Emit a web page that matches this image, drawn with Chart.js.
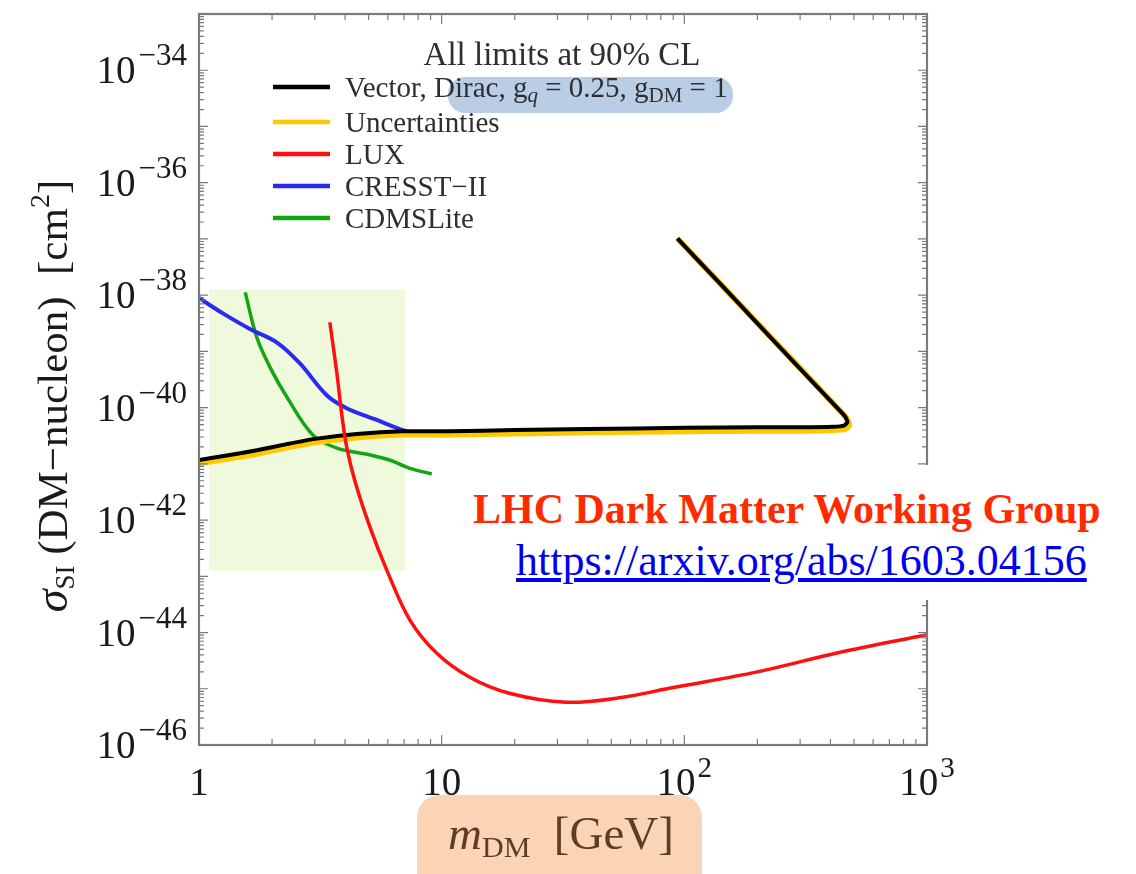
<!DOCTYPE html>
<html lang="en">
<head>
<meta charset="UTF-8">
<title>DM-nucleon spin-independent limits</title>
<script src="https://cdn.jsdelivr.net/npm/chart.js"></script>
<style>
    body { margin: 0; background: #fff; }
    .wrap { position: relative; width: 1136px; height: 874px; }
    #limits { position: absolute; left: 0; top: 0; }
    .mask { position: absolute; left: 462px; top: 465px; width: 674px; height: 135px; background: #fff; }
    .credit-title {
        position: absolute; left: 473px; top: 488px; white-space: nowrap;
        font-family: "Liberation Serif", "Times New Roman", serif;
        font-weight: bold; font-size: 42px; line-height: 42px; color: #ff2a00;
    }
    .credit-link {
        position: absolute; left: 516px; top: 539px; white-space: nowrap;
        font-family: "Liberation Serif", "Times New Roman", serif;
        font-size: 44px; line-height: 44px; color: #0000ee;
    }
</style>
</head>
<body>
<div class="wrap">
    <canvas id="limits" width="1136" height="874"></canvas>
    <div class="mask"></div>
    <div class="credit-title">LHC Dark Matter Working Group</div>
    <a class="credit-link" href="https://arxiv.org/abs/1603.04156">https://arxiv.org/abs/1603.04156</a>
</div>
<script>
    // DM mass [GeV] and cross-section [cm^2]
    const vectorMass  = [1, 1.3, 1.73, 2.3, 2.95, 4.47, 6.9, 10.8, 20, 40, 100, 200, 300, 410, 455, 470, 460, 447, 349, 230, 143, 93.6];
    const vectorSigma = [1.17e-41, 1.41e-41, 1.74e-41, 2.24e-41, 2.75e-41, 3.39e-41, 3.80e-41, 3.80e-41, 3.98e-41, 4.17e-41, 4.37e-41, 4.47e-41, 4.47e-41, 4.57e-41, 4.79e-41, 5.50e-41, 6.92e-41, 8.0e-41, 2.45e-40, 1.66e-39, 1.48e-38, 1.02e-37];

    const uncMass  = [1, 1.3, 1.73, 2.3, 2.95, 4.47, 6.9, 10.8, 20, 40, 100, 200, 300, 410, 460, 478, 466, 450, 351, 231, 143, 93.6];
    const uncSigma = [1.02e-41, 1.23e-41, 1.51e-41, 1.95e-41, 2.40e-41, 2.95e-41, 3.31e-41, 3.31e-41, 3.47e-41, 3.63e-41, 3.80e-41, 3.89e-41, 3.89e-41, 3.98e-41, 4.17e-41, 4.79e-41, 6.46e-41, 7.8e-41, 2.45e-40, 1.66e-39, 1.48e-38, 1.02e-37];

    const luxMass  = [3.46, 3.7, 3.87, 4.06, 4.38, 5.06, 5.94, 7.4, 9.5, 13.0, 19.0, 32.5, 54, 90, 200, 430, 1000];
    const luxSigma = [3.31e-39, 4.07e-40, 7.94e-41, 2.0e-41, 5.13e-42, 7.59e-43, 1.29e-43, 1.66e-44, 4.37e-45, 1.62e-45, 8.32e-46, 5.75e-46, 6.92e-46, 1.05e-45, 2.0e-45, 4.37e-45, 9.12e-45];

    const cresstMass  = [1, 1.25, 1.62, 2.09, 2.6, 3.36, 4.06, 5.4, 6.9, 7.2];
    const cresstSigma = [8.91e-39, 4.79e-39, 2.51e-39, 1.45e-39, 6.17e-40, 1.66e-40, 9.77e-41, 6.03e-41, 3.98e-41, 3.80e-41];

    const cdmsMass  = [1.55, 1.73, 1.96, 2.3, 2.95, 3.7, 5.05, 6.1, 7.4, 9.1];
    const cdmsSigma = [1.12e-38, 1.78e-39, 5.25e-40, 1.55e-40, 3.24e-41, 1.91e-41, 1.45e-41, 1.17e-41, 8.32e-42, 6.61e-42];

    // light green shaded box
    const shadeMass  = [1.1, 7.1];
    const shadeSigma = [1.26e-38, 1.26e-38];
    const shadeFloor = 1.26e-43;

    const yLabelExponents = [-46, -44, -42, -40, -38, -36, -34];
    const xLabelValues = [1, 10, 100, 1000];
    const xLabelBase = ['1', '10', '10', '10'];
    const xLabelPower = ['', '', '2', '3'];

    const legendNames = ['Vector', 'Uncertainties', 'LUX', 'CRESST\u2212II', 'CDMSLite'];
    const legendColors = ['#000000', '#ffc800', '#ff1010', '#2b2bf0', '#13a613'];

    const serif = '"Liberation Serif", "Times New Roman", serif';

    function pts(xs, ys) {
        return xs.map((x, i) => ({ x: x, y: ys[i] }));
    }

    function fontOf(r) {
        return (r.italic ? 'italic ' : '') + r.size + 'px ' + serif;
    }

    // text runs, so sub/superscripts can be drawn
    function runsWidth(ctx, runs) {
        let w = 0;
        runs.forEach(r => { ctx.font = fontOf(r); w += ctx.measureText(r.t).width + (r.gap || 0); });
        return w;
    }
    function drawRuns(ctx, x, y, runs) {
        ctx.textAlign = 'left';
        ctx.textBaseline = 'alphabetic';
        runs.forEach(r => {
            ctx.font = fontOf(r);
            x += r.gap || 0;
            ctx.fillText(r.t, x, y + (r.dy || 0));
            x += ctx.measureText(r.t).width;
        });
        return x;
    }

    function roundBox(ctx, x, y, w, h, r) {
        ctx.beginPath();
        ctx.moveTo(x + r, y);
        ctx.arcTo(x + w, y, x + w, y + h, r);
        ctx.arcTo(x + w, y + h, x, y + h, r);
        ctx.arcTo(x, y + h, x, y, r);
        ctx.arcTo(x, y, x + w, y, r);
        ctx.closePath();
        ctx.fill();
    }

    const framePlugin = {
        id: 'framePlugin',
        afterDraw(chart) {
            const ctx = chart.ctx;
            const a = chart.chartArea;
            const xs = chart.scales.x;
            const ys = chart.scales.y;
            ctx.save();

            // inward ticks on all four sides
            ctx.strokeStyle = '#7a7a7a';
            ctx.lineWidth = 1.2;
            ctx.beginPath();
            for (let k = -46; k <= -34; k++) {
                for (let m = 1; m <= 9; m++) {
                    const py = ys.getPixelForValue(m * Math.pow(10, k));
                    if (py < a.top) continue;
                    const len = m === 1 ? 9 : 5;
                    ctx.moveTo(a.left, py); ctx.lineTo(a.left + len, py);
                    ctx.moveTo(a.right, py); ctx.lineTo(a.right - len, py);
                }
            }
            for (let d = 0; d <= 3; d++) {
                for (let m = 1; m <= 9; m++) {
                    const v = m * Math.pow(10, d);
                    if (v > 1000) continue;
                    const px = xs.getPixelForValue(v);
                    const len = m === 1 ? 10 : 6;
                    ctx.moveTo(px, a.bottom); ctx.lineTo(px, a.bottom - len);
                    ctx.moveTo(px, a.top); ctx.lineTo(px, a.top + len);
                }
            }
            ctx.stroke();
            ctx.lineWidth = 2.2;
            ctx.strokeRect(a.left, a.top, a.right - a.left, a.bottom - a.top);

            // tick labels
            ctx.fillStyle = '#1a1a1a';
            yLabelExponents.forEach(e => {
                const py = ys.getPixelForValue(Math.pow(10, e));
                const runs = [{ t: '10', size: 39 }, { t: '\u2212' + Math.abs(e), size: 31, dy: -18, gap: 3 }];
                const w = runsWidth(ctx, runs);
                drawRuns(ctx, 187 - w, py + 13, runs);
            });
            xLabelValues.forEach((v, i) => {
                const px = xs.getPixelForValue(v);
                const runs = [{ t: xLabelBase[i], size: 39 }];
                if (xLabelPower[i]) runs.push({ t: xLabelPower[i], size: 29, dy: -18, gap: 2 });
                const w = runsWidth(ctx, runs);
                drawRuns(ctx, px - w / 2, 795, runs);
            });

            // y axis title
            ctx.save();
            ctx.translate(67, 396);
            ctx.rotate(-Math.PI / 2);
            const yTitle = [
                { t: '\u03c3', size: 46, italic: true },
                { t: 'SI', size: 27, dy: 7 },
                { t: ' (DM\u2212nucleon)  [cm', size: 43 },
                { t: '2', size: 28, dy: -18 },
                { t: ']', size: 43 }
            ];
            drawRuns(ctx, -runsWidth(ctx, yTitle) / 2, 0, yTitle);
            ctx.restore();

            // x axis title on orange highlight
            ctx.fillStyle = '#fbd4b6';
            roundBox(ctx, 417, 795, 285, 100, 22);
            ctx.fillStyle = '#5e3d22';
            const xTitle = [
                { t: 'm', size: 47, italic: true },
                { t: 'DM', size: 30, dy: 8 },
                { t: '  [GeV]', size: 47 }
            ];
            drawRuns(ctx, 561 - runsWidth(ctx, xTitle) / 2, 849, xTitle);

            // legend block inside the plot
            ctx.fillStyle = '#2e2e2e';
            const head = [{ t: 'All limits at 90% CL', size: 33 }];
            drawRuns(ctx, 562 - runsWidth(ctx, head) / 2, 65, head);

            ctx.fillStyle = 'rgba(165,191,222,0.78)';
            roundBox(ctx, 448, 77, 285, 36, 17);

            const rowY = [87, 122, 154, 186, 218];
            legendNames.forEach((name, i) => {
                ctx.strokeStyle = legendColors[i];
                ctx.lineWidth = 4.5;
                ctx.beginPath();
                ctx.moveTo(273, rowY[i]);
                ctx.lineTo(330, rowY[i]);
                ctx.stroke();
                ctx.fillStyle = '#2e2e2e';
                let runs;
                if (i === 0) {
                    runs = [
                        { t: 'Vector, Dirac, ', size: 29 },
                        { t: 'g', size: 29 },
                        { t: 'q', size: 21, italic: true, dy: 5 },
                        { t: ' = 0.25, ', size: 29 },
                        { t: 'g', size: 29 },
                        { t: 'DM', size: 21, dy: 5 },
                        { t: ' = 1', size: 29 }
                    ];
                } else {
                    runs = [{ t: name, size: 29 }];
                }
                drawRuns(ctx, 345, rowY[i] + 10, runs);
            });

            ctx.restore();
        }
    };

    const lineBase = { pointRadius: 0, fill: false, tension: 0.35 };

    new Chart(document.getElementById('limits'), {
        type: 'line',
        data: {
            datasets: [
                Object.assign({}, lineBase, { label: 'LUX', data: pts(luxMass, luxSigma), borderColor: legendColors[2], borderWidth: 3.5, order: 1 }),
                Object.assign({}, lineBase, { label: 'Vector', data: pts(vectorMass, vectorSigma), borderColor: legendColors[0], borderWidth: 4, tension: 0.15, order: 2 }),
                Object.assign({}, lineBase, { label: 'Uncertainties', data: pts(uncMass, uncSigma), borderColor: legendColors[1], borderWidth: 6, tension: 0.15, order: 3 }),
                Object.assign({}, lineBase, { label: 'CRESST-II', data: pts(cresstMass, cresstSigma), borderColor: legendColors[3], borderWidth: 4, order: 4 }),
                Object.assign({}, lineBase, { label: 'CDMSLite', data: pts(cdmsMass, cdmsSigma), borderColor: legendColors[4], borderWidth: 3.5, order: 5 }),
                {
                    label: 'shade', data: pts(shadeMass, shadeSigma), pointRadius: 0,
                    borderColor: 'rgba(0,0,0,0)', backgroundColor: '#eefadb',
                    fill: { value: shadeFloor }, tension: 0, order: 10
                }
            ]
        },
        options: {
            responsive: false,
            animation: false,
            devicePixelRatio: 1,
            layout: { padding: { left: 199, right: 209, top: 14, bottom: 129 } },
            scales: {
                x: { type: 'logarithmic', min: 1, max: 1000, display: false },
                y: { type: 'logarithmic', min: 1e-46, max: 1e-33, display: false }
            },
            plugins: {
                legend: { display: false },
                tooltip: { enabled: false }
            }
        },
        plugins: [framePlugin]
    });
</script>
</body>
</html>
